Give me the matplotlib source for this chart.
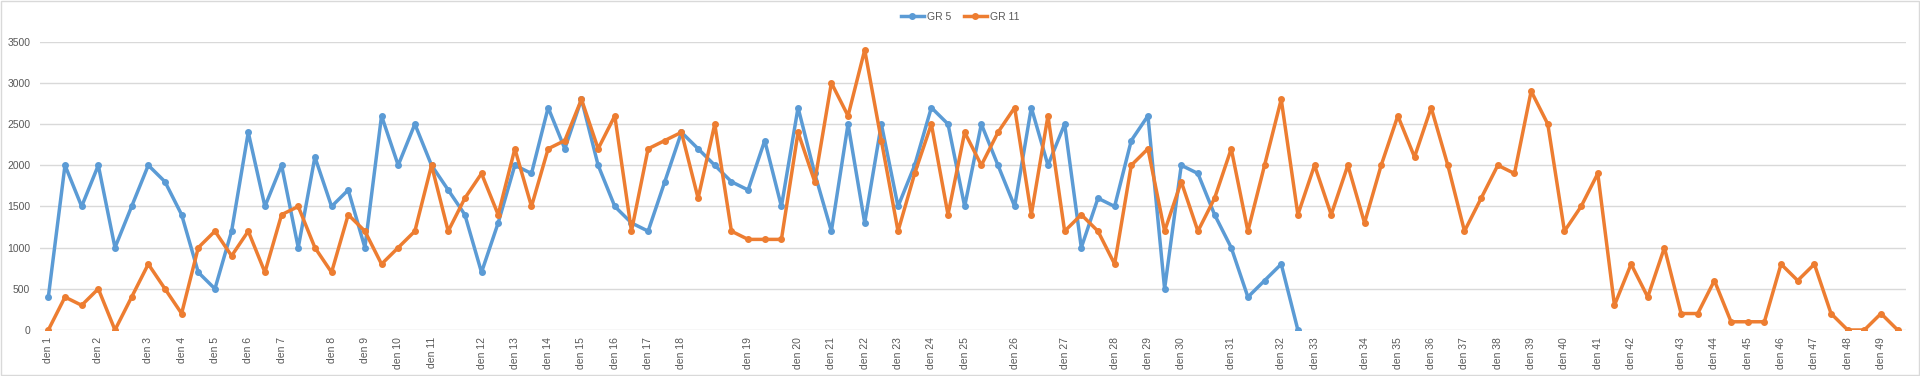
import matplotlib.pyplot as plt
from matplotlib.patches import Rectangle

# values, one per category
gr5 = [400, 2000, 1500, 2000, 1000, 1500, 2000, 1800, 1400, 700, 500, 1200, 2400, 1500, 2000, 1000, 2100, 1500,
       1700, 1000, 2600, 2000, 2500, 2000, 1700, 1400, 700, 1300, 2000, 1900, 2700, 2200, 2800, 2000, 1500, 1300, 1200,
       1800, 2400, 2200, 2000, 1800, 1700, 2300, 1500, 2700, 1900, 1200, 2500, 1300, 2500, 1500, 2000, 2700, 2500, 1500,
       2500, 2000, 1500, 2700, 2000, 2500, 1000, 1600, 1500, 2300, 2600, 500, 2000, 1900, 1400, 1000, 400, 600, 800, 0]

gr11 = [0, 400, 300, 500, 0, 400, 800, 500, 200, 1000, 1200, 900, 1200, 700, 1400, 1500, 1000, 700,
        1400, 1200, 800, 1000, 1200, 2000, 1200, 1600, 1900, 1400, 2200, 1500, 2200, 2300, 2800, 2200, 2600, 1200, 2200,
        2300, 2400, 1600, 2500, 1200, 1100, 1100, 1100, 2400, 1800, 3000, 2600, 3400, 2300, 1200, 1900, 2500, 1400, 2400,
        2000, 2400, 2700, 1400, 2600, 1200, 1400, 1200, 800, 2000, 2200, 1200, 1800, 1200, 1600, 2200, 1200, 2000, 2800, 1400,
        2000, 1400, 2000, 1300, 2000, 2600, 2100, 2700, 2000, 1200, 1600, 2000, 1900, 2900, 2500, 1200, 1500, 1900, 300,
        800, 400, 1000, 200, 200, 600, 100, 100, 100, 800, 600, 800, 200, 0, 0, 200, 0]

# category index where each "den N" label sits (the rest are blank)
den_pos = [0, 3, 6, 8, 10, 12, 14, 17, 19, 21, 23, 26, 28, 30, 32, 34, 36, 38, 42, 45, 47, 49, 51, 53, 55,
           58, 61, 64, 66, 68, 71, 74, 76, 79, 81, 83, 85, 87, 89, 91, 93, 95, 98, 100, 102, 104, 106, 108, 110]

labels = [''] * len(gr11)
for n, p in enumerate(den_pos):
    labels[p] = 'den %d' % (n + 1)

plt.rcParams['font.family'] = ['Liberation Sans', 'DejaVu Sans']

fig = plt.figure(figsize=(19.2, 3.76), dpi=100)
ax = fig.add_axes([40 / 1920, 1 - 330 / 376, 1866 / 1920, (330 - 41.7) / 376])

blue = '#5B9BD5'
orange = '#ED7D31'
ax.plot(range(len(gr5)), gr5, color=blue, lw=2.5, marker='o', ms=4, label='GR 5', zorder=3)
ax.plot(range(len(gr11)), gr11, color=orange, lw=2.5, marker='o', ms=4, label='GR 11', zorder=4)

ax.set_xlim(-0.5, len(gr11) - 0.5)
ax.set_ylim(0, 3500)
ax.set_yticks(range(0, 3501, 500))
ax.set_xticks(range(len(gr11)))
ax.set_xticklabels(labels, rotation=90, fontsize=7.5, color='#595959')
ax.tick_params(axis='y', labelsize=7.5, labelcolor='#595959', length=0, pad=7)
ax.tick_params(axis='x', length=0, pad=5)
ax.grid(axis='y', color='#D9D9D9', lw=1)
ax.set_axisbelow(True)
for s in ax.spines.values():
    s.set_visible(False)

fig.legend(loc='center', bbox_to_anchor=(0.5, 1 - 17 / 376), ncol=2, frameon=False,
           fontsize=7.5, handlelength=2.2, columnspacing=1.2, handletextpad=0.3, labelcolor='#595959')

fig.patches.append(Rectangle((0.0005, 0.002), 0.999, 0.996, transform=fig.transFigure,
                             fill=False, edgecolor='#D9D9D9', lw=1))

fig.savefig('out.png', dpi=100)
